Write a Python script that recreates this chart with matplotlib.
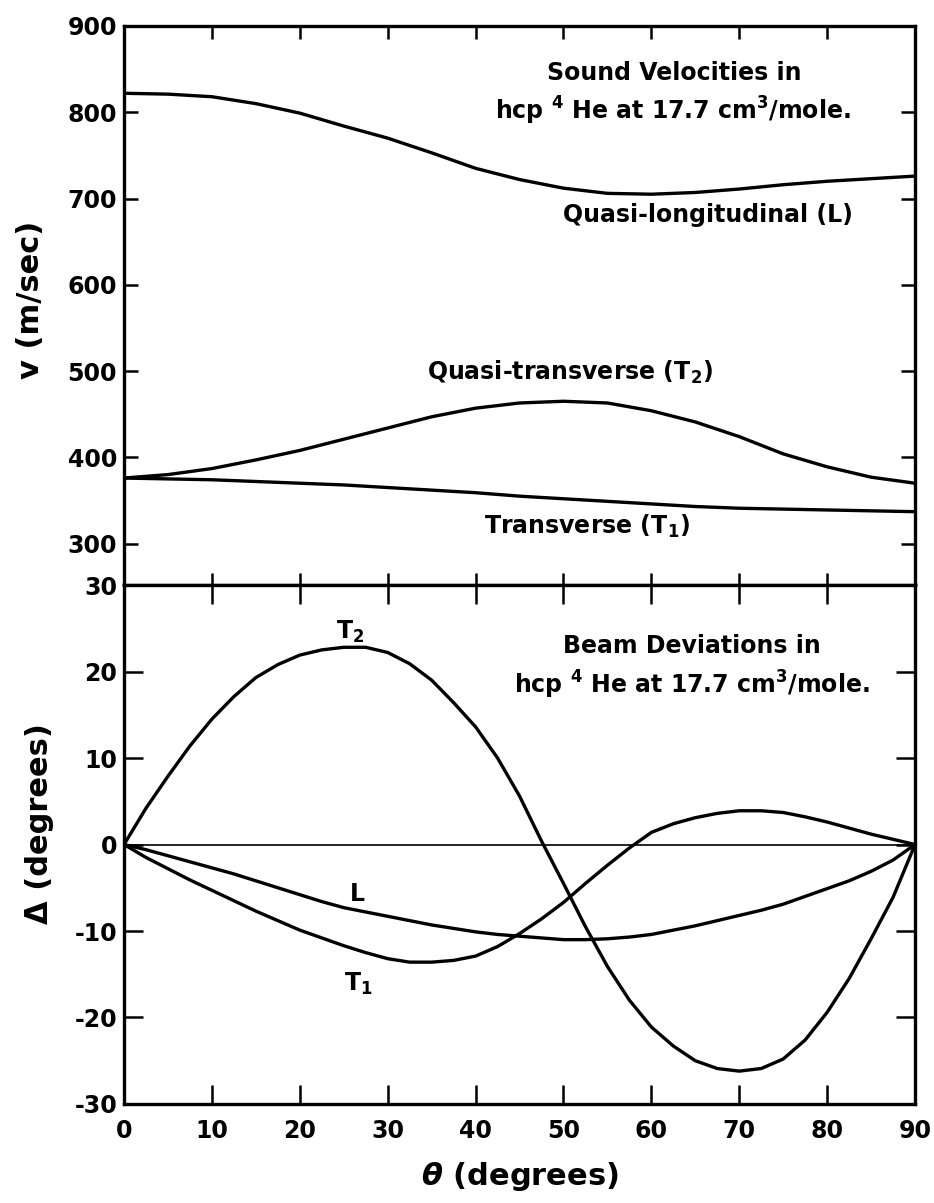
import matplotlib
matplotlib.use("Agg")
import matplotlib.pyplot as plt
import numpy as np

plt.rcParams['font.family'] = ['DejaVu Sans']
plt.rcParams['font.weight'] = 'bold'
plt.rcParams['mathtext.fontset'] = 'custom'
plt.rcParams['mathtext.rm'] = 'DejaVu Sans:bold'
plt.rcParams['mathtext.it'] = 'DejaVu Sans:italic:bold'
plt.rcParams['mathtext.bf'] = 'DejaVu Sans:bold'

# ---------------- data ----------------
theta_v = [0, 5, 10, 15, 20, 25, 30, 35, 40, 45, 50, 55, 60, 65, 70, 75, 80, 85, 90]
v_L  = [822, 821, 818, 810, 799, 784, 770, 753, 735, 722, 712, 706, 705, 707, 711, 716, 720, 723, 726]
v_T2 = [376, 380, 387, 397, 408, 421, 434, 447, 457, 463, 465, 463, 454, 441, 424, 404, 389, 377, 370]
v_T1 = [376, 375, 374, 372, 370, 368, 365, 362, 359, 355, 352, 349, 346, 343, 341, 340, 339, 338, 337]

theta_d = [0, 2.5, 5, 7.5, 10, 12.5, 15, 17.5, 20, 22.5, 25, 27.5, 30, 32.5, 35, 37.5, 40, 42.5,
           45, 47.5, 50, 52.5, 55, 57.5, 60, 62.5, 65, 67.5, 70, 72.5, 75, 77.5, 80, 82.5,
           85, 87.5, 90]
d_T2 = [0, 4.2, 7.9, 11.4, 14.5, 17.1, 19.3, 20.8, 21.9, 22.5, 22.8, 22.8, 22.2, 20.9, 19.0, 16.4,
        13.6, 10.0, 5.6, 0.4, -4.5, -9.5, -14.1, -18.0, -21.1, -23.3, -25.0, -25.9, -26.2, -25.9,
        -24.8, -22.6, -19.4, -15.5, -10.9, -6.1, 0]
d_T1 = [0, -1.5, -2.8, -4.1, -5.3, -6.5, -7.7, -8.8, -9.9, -10.8, -11.7, -12.5, -13.2, -13.6,
        -13.6, -13.4, -12.9, -11.8, -10.3, -8.6, -6.7, -4.5, -2.4, -0.4, 1.4, 2.4, 3.1, 3.6, 3.9,
        3.9, 3.7, 3.2, 2.6, 1.9, 1.2, 0.6, 0]
d_L = [0, -0.6, -1.3, -2.0, -2.7, -3.4, -4.2, -5.0, -5.8, -6.6, -7.3, -7.8, -8.3, -8.8, -9.3,
       -9.7, -10.1, -10.4, -10.6, -10.8, -11.0, -11.0, -10.9, -10.7, -10.4, -9.9, -9.4, -8.8,
       -8.2, -7.6, -6.9, -6.0, -5.1, -4.2, -3.1, -1.8, 0]

x_ticks = [0, 10, 20, 30, 40, 50, 60, 70, 80, 90]
x_ticklabels = ['0', '10', '20', '30', '40', '50', '60', '70', '80', '90']
v_ticks = [300, 400, 500, 600, 700, 800, 900]
v_ticklabels = ['300', '400', '500', '600', '700', '800', '900']
d_ticks = [-30, -20, -10, 0, 10, 20, 30]
d_ticklabels = ['-30', '-20', '-10', '0', '10', '20', '30']

# ---------------- figure ----------------
fig = plt.figure(figsize=(9.34, 12.03), dpi=100)
ax1 = fig.add_axes([0.1328, 0.5137, 0.8469, 0.4647])
ax2 = fig.add_axes([0.1328, 0.0823, 0.8469, 0.4314])

lw = 2.4
for ax in (ax1, ax2):
    for sp in ax.spines.values():
        sp.set_linewidth(2.4)
    ax.set_xlim(0, 90)
    ax.set_xticks(x_ticks)
    ax.tick_params(axis='both', which='both', direction='in', length=10, width=1.8,
                   top=True, right=True, labelsize=17)
    ax.tick_params(axis='y', pad=5)
    ax.tick_params(axis='x', pad=11)

# top panel
ax1.plot(theta_v, v_L, color='black', lw=lw)
ax1.plot(theta_v, v_T2, color='black', lw=lw)
ax1.plot(theta_v, v_T1, color='black', lw=lw)
ax1.set_ylim(252, 900)
ax1.set_yticks(v_ticks)
ax1.set_yticklabels(v_ticklabels, fontweight='bold')
ax1.tick_params(axis='x', labelbottom=False, length=9)
ax1.set_ylabel('v (m/sec)', fontsize=22, fontweight='bold')
ax1.yaxis.set_label_coords(-0.10, 0.51)

ts = 17
ax1.text(62.6, 846, 'Sound Velocities in', ha='center', va='center', fontsize=ts)
ax1.text(62.5, 802, 'hcp $^4$ He at 17.7 cm$^3$/mole.', ha='center', va='center', fontsize=ts)
ax1.text(66.4, 681, 'Quasi-longitudinal (L)', ha='center', va='center', fontsize=ts)
ax1.text(50.7, 498, 'Quasi-transverse (T$_2$)', ha='center', va='center', fontsize=ts)
ax1.text(52.7, 320, 'Transverse (T$_1$)', ha='center', va='center', fontsize=ts)

# bottom panel
ax2.axhline(0, color='black', lw=1.2)
ax2.plot(theta_d, d_T2, color='black', lw=lw)
ax2.plot(theta_d, d_T1, color='black', lw=lw)
ax2.plot(theta_d, d_L, color='black', lw=lw)
ax2.set_ylim(-30, 30)
ax2.set_yticks(d_ticks)
ax2.set_yticklabels(d_ticklabels, fontweight='bold')
ax2.set_xticklabels(x_ticklabels, fontweight='bold')
ax2.tick_params(axis='both', length=14)
ax2.tick_params(axis='x', which='both', top=True, length=14)
ax2.set_xlabel(r'$\theta$ (degrees)', fontsize=22, fontweight='bold', labelpad=12)
ax2.set_ylabel('Δ (degrees)', fontsize=22, fontweight='bold')
ax2.yaxis.set_label_coords(-0.088, 0.54)

ax2.text(64.6, 22.9, 'Beam Deviations in', ha='center', va='center', fontsize=ts)
ax2.text(64.6, 18.4, 'hcp $^4$ He at 17.7 cm$^3$/mole.', ha='center', va='center', fontsize=ts)
ax2.text(25.7, 24.6, 'T$_2$', ha='center', va='center', fontsize=ts)
ax2.text(26.5, -5.7, 'L', ha='center', va='center', fontsize=ts)
ax2.text(26.6, -16.1, 'T$_1$', ha='center', va='center', fontsize=ts)

fig.savefig('out.png', dpi=100)
